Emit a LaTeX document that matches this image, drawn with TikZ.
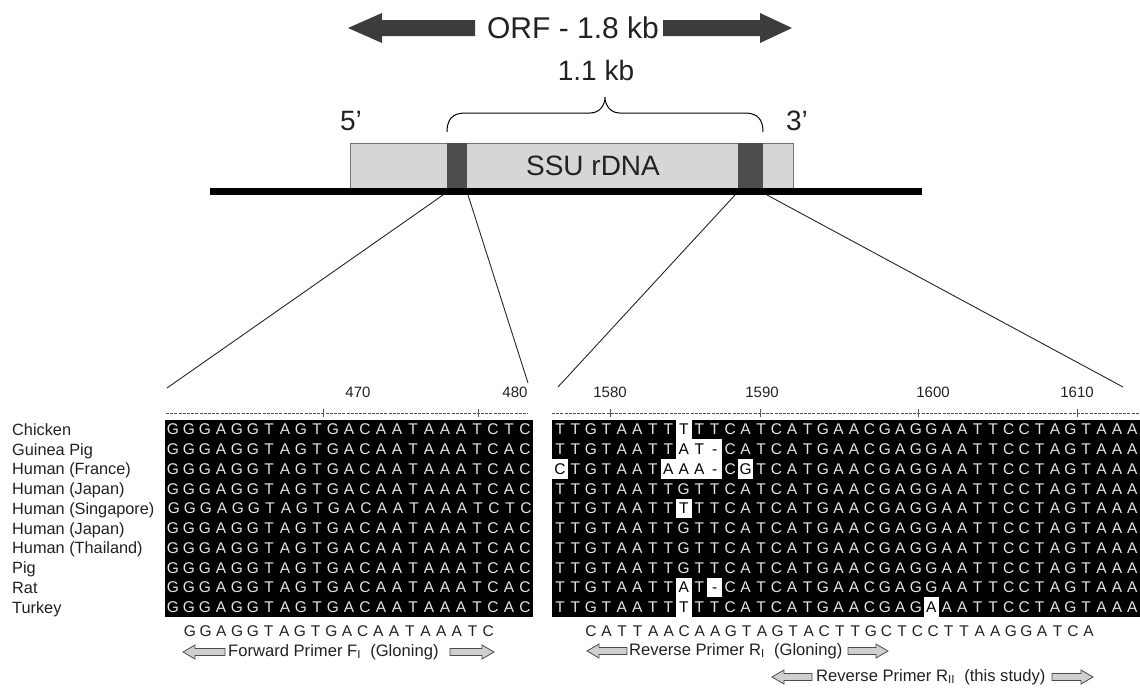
\documentclass[tikz,border=0pt]{standalone}
\usepackage{fontspec}
\setmainfont{Liberation Sans}
\definecolor{orfgray}{HTML}{3C3C3C}
\definecolor{genelight}{HTML}{D6D6D6}
\definecolor{genedark}{HTML}{4D4D4D}
\definecolor{lettergray}{HTML}{E4E4E4}
\definecolor{arrowfill}{HTML}{CFCFCF}
\definecolor{rulergray}{HTML}{555555}
\definecolor{txtgray}{HTML}{222222}
\makeatletter
\newcount\seqidx
\newif\ifsq@hl
% name, x0, pitch, baseline y, style, string (lower case / _ = highlighted)
\newcommand\seqrow[6]{%
  \def\sq@n{#1}\def\sq@x{#2}\def\sq@p{#3}\def\sq@y{#4}\def\sq@s{#5}\global\seqidx=0
  \sq@loop#6\relax}
\def\sq@loop#1{\ifx#1\relax\else
  \sq@char#1%
  \global\advance\seqidx by 1
  \expandafter\sq@loop\fi}
\def\sq@char#1{\sq@hlfalse
  \ifx#1a\sq@hltrue\def\sq@c{A}\else
  \ifx#1c\sq@hltrue\def\sq@c{C}\else
  \ifx#1g\sq@hltrue\def\sq@c{G}\else
  \ifx#1t\sq@hltrue\def\sq@c{T}\else
  \ifx#1_\sq@hltrue\def\sq@c{-}\else
  \def\sq@c{#1}\fi\fi\fi\fi\fi
  \ifsq@hl
    \fill[white] ({\sq@x+(\the\seqidx-0.5)*\sq@p},{\sq@y-15.3}) rectangle ({\sq@x+(\the\seqidx+0.5)*\sq@p},{\sq@y+4.45});
    \node[\sq@s,text=black] (\sq@n-\the\seqidx) at ({\sq@x+\the\seqidx*\sq@p},\sq@y) {\sq@c};%
  \else
    \node[\sq@s] (\sq@n-\the\seqidx) at ({\sq@x+\the\seqidx*\sq@p},\sq@y) {\sq@c};%
  \fi}
\makeatother
\newcommand\arrL[3]{\filldraw[primarrow] (#1,#3) -- (#1+12,#3-7) -- (#1+12,#3-3.5) -- (#2,#3-3.5) -- (#2,#3+3.5) -- (#1+12,#3+3.5) -- (#1+12,#3+7) -- cycle;}
\newcommand\arrR[3]{\filldraw[primarrow] (#2,#3) -- (#2-12,#3-7) -- (#2-12,#3-3.5) -- (#1,#3-3.5) -- (#1,#3+3.5) -- (#2-12,#3+3.5) -- (#2-12,#3+7) -- cycle;}
\begin{document}
\begin{tikzpicture}[x=1pt,y=-1pt,
  seqchar/.style={font=\fontsize{15.5}{15.5}\selectfont, text=lettergray, inner sep=0pt, anchor=base},
  conschar/.style={font=\fontsize{15.5}{15.5}\selectfont, text=txtgray, inner sep=0pt, anchor=base},
  specname/.style={font=\fontsize{16.3}{16.3}\selectfont, text=txtgray, inner sep=0pt, anchor=base west},
  rulernum/.style={font=\fontsize{15}{15}\selectfont, text=txtgray, inner sep=0pt},
  primlabel/.style={font=\fontsize{16.6}{16.6}\selectfont, text=txtgray, inner sep=0pt, anchor=west},
  bigtext/.style={font=\fontsize{28}{28}\selectfont, text=txtgray, inner sep=0pt},
  primarrow/.style={fill=arrowfill, draw=black!70, line width=0.8pt, line join=miter},
  ruler/.style={draw=rulergray, line width=0.8pt, dash pattern=on 3pt off 1.2pt},
  tickmark/.style={draw=rulergray, line width=0.8pt},
  zoomline/.style={draw=black!85, line width=0.9pt}]
\useasboundingbox (0,0) rectangle (1140,689);
\fill[white] (0,0) rectangle (1140,689);

% ---- ORF arrows
\fill[orfgray] (348,28) -- (382,13) -- (382,20) -- (475,20) -- (475,36) -- (382,36) -- (382,43) -- cycle;
\fill[orfgray] (792,28) -- (760,13) -- (760,20) -- (663,20) -- (663,36) -- (760,36) -- (760,43) -- cycle;
\node[bigtext, font=\fontsize{30}{30}\selectfont] (orf) at (573,28) {ORF - 1.8 kb};
\node[bigtext] (kb) at (596,70) {1.1 kb};

% ---- brace
\draw[black, line width=1pt] (447,132) .. controls (447,120) and (452,113) .. (465,113) -- (590,113)
  .. controls (600,113) and (605,105) .. (605,97) .. controls (605,105) and (610,113) .. (620,113)
  -- (745,113) .. controls (758,113) and (763,120) .. (763,132);
\node[bigtext] (five) at (351,121) {5’};
\node[bigtext] (three) at (797,121) {3’};

% ---- gene
\filldraw[fill=genelight, draw=black!55, line width=0.7pt] (350,143) rectangle (793,188);
\fill[genedark] (447,143) rectangle (467,188);
\fill[genedark] (738,143) rectangle (763,188);
\node[bigtext] (ssu) at (593,166) {SSU rDNA};
\fill[black] (210,188) rectangle (922,195);

% ---- zoom connectors
\coordinate (fA) at (443,195);
\coordinate (fB) at (468,195);
\coordinate (rA) at (735,195);
\coordinate (rB) at (767,195);
\coordinate (fA2) at (167,388);
\coordinate (fB2) at (528,383);
\coordinate (rA2) at (558,387);
\coordinate (rB2) at (1123,387);
\draw[zoomline] (fA) -- (fA2);
\draw[zoomline] (fB) -- (fB2);
\draw[zoomline] (rA) -- (rA2);
\draw[zoomline] (rB) -- (rB2);

% ---- rulers
\draw[ruler] (166,413) -- (528,413);
\draw[ruler] (552,413) -- (1140,413);
\foreach \t in {323,478,610,760,918,1077} {\draw[tickmark] (\t,408.5) -- (\t,417);}
\node[rulernum] (n470) at (358,392) {470};
\node[rulernum] (n480) at (515,392) {480};
\node[rulernum] (n1580) at (610,392) {1580};
\node[rulernum] (n1590) at (762,392) {1590};
\node[rulernum] (n1600) at (933,392) {1600};
\node[rulernum] (n1610) at (1077,392) {1610};

% ---- species names
\node[specname] (sp0) at (12,435.3) {Chicken};
\node[specname] (sp1) at (12,455.05) {Guinea Pig};
\node[specname] (sp2) at (12,474.8) {Human (France)};
\node[specname] (sp3) at (12,494.55) {Human (Japan)};
\node[specname] (sp4) at (12,514.3) {Human (Singapore)};
\node[specname] (sp5) at (12,534.05) {Human (Japan)};
\node[specname] (sp6) at (12,553.8) {Human (Thailand)};
\node[specname] (sp7) at (12,573.55) {Pig};
\node[specname] (sp8) at (12,593.3) {Rat};
\node[specname] (sp9) at (12,613.05) {Turkey};

% ---- black blocks
\fill[black] (165,419.5) rectangle (533,617);
\fill[black] (552,419.5) rectangle (1140,617);

% ---- left alignment
\seqrow{L0}{173}{16}{434.8}{seqchar}{GGGAGGTAGTGACAATAAATCTC}
\seqrow{L1}{173}{16}{454.55}{seqchar}{GGGAGGTAGTGACAATAAATCAC}
\seqrow{L2}{173}{16}{474.3}{seqchar}{GGGAGGTAGTGACAATAAATCAC}
\seqrow{L3}{173}{16}{494.05}{seqchar}{GGGAGGTAGTGACAATAAATCAC}
\seqrow{L4}{174}{16}{513.8}{seqchar}{GGGAGGTAGTGACAATAAATCTC}
\seqrow{L5}{173}{16}{533.55}{seqchar}{GGGAGGTAGTGACAATAAATCAC}
\seqrow{L6}{173}{16}{553.3}{seqchar}{GGGAGGTAGTGACAATAAATCAC}
\seqrow{L7}{173}{16}{573.05}{seqchar}{GGGAGGTAGTGACAATAAATCAC}
\seqrow{L8}{173}{16}{592.8}{seqchar}{GGGAGGTAGTGACAATAAATCAC}
\seqrow{L9}{173}{16}{612.55}{seqchar}{GGGAGGTAGTGACAATAAATCAC}

% ---- right alignment (lower case / _ = position shown on white)
\seqrow{R0}{560}{15.47}{434.8}{seqchar}{TTGTAATTtTTCATCATGAACGAGGAATTCCTAGTAAA}
\seqrow{R1}{560}{15.47}{454.55}{seqchar}{TTGTAATTat_CATCATGAACGAGGAATTCCTAGTAAA}
\seqrow{R2}{560}{15.47}{474.3}{seqchar}{cTGTAATaaa_CgTCATGAACGAGGAATTCCTAGTAAA}
\seqrow{R3}{560}{15.47}{494.05}{seqchar}{TTGTAATTGTTCATCATGAACGAGGAATTCCTAGTAAA}
\seqrow{R4}{560}{15.47}{513.8}{seqchar}{TTGTAATTtTTCATCATGAACGAGGAATTCCTAGTAAA}
\seqrow{R5}{560}{15.47}{533.55}{seqchar}{TTGTAATTGTTCATCATGAACGAGGAATTCCTAGTAAA}
\seqrow{R6}{560}{15.47}{553.3}{seqchar}{TTGTAATTGTTCATCATGAACGAGGAATTCCTAGTAAA}
\seqrow{R7}{560}{15.47}{573.05}{seqchar}{TTGTAATTGTTCATCATGAACGAGGAATTCCTAGTAAA}
\seqrow{R8}{560}{15.47}{592.8}{seqchar}{TTGTAATTaT_CATCATGAACGAGGAATTCCTAGTAAA}
\seqrow{R9}{560}{15.47}{612.55}{seqchar}{TTGTAATTtTTCATCATGAACGAGaAATTCCTAGTAAA}

% ---- primer sequences
\seqrow{PF}{190}{15.7}{636.4}{conschar}{GGAGGTAGTGACAATAAATC}
\seqrow{PR}{591}{15.55}{636.4}{conschar}{CATTAACAAGTAGTACTTGCTCCTTAAGGATCA}

% ---- primer labels
\arrL{183}{225}{652}
\node[primlabel] (fwd) at (228,652) {Forward Primer F\textsubscript{I}\ \ (Gloning)};
\arrR{450}{494}{652}
\arrL{587}{627}{651}
\node[primlabel] (rev1) at (629,651) {Reverse Primer R\textsubscript{I}\ \ (Gloning)};
\arrR{848}{888}{651}
\arrL{772}{812}{677}
\node[primlabel] (rev2) at (816,677) {Reverse Primer R\textsubscript{II}\ \ (this study)};
\arrR{1052}{1093}{677}
\end{tikzpicture}
\end{document}
